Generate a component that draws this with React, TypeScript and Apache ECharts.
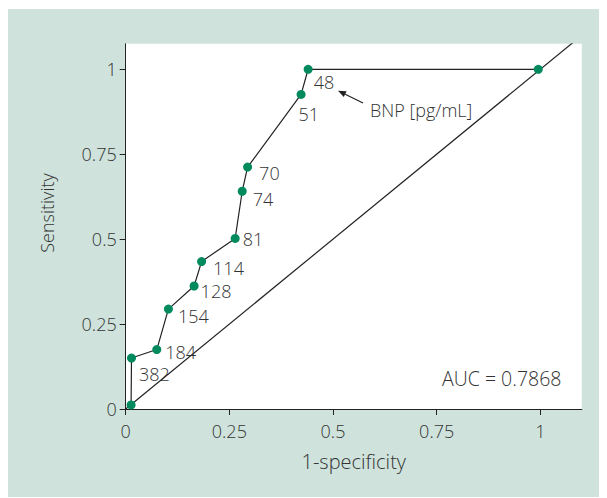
import React, { useEffect, useRef } from "react";
import * as echarts from "echarts";

// 1-specificity (false positive rate) and sensitivity for each BNP cut-off
const fpr = [0.013, 0.014, 0.075, 0.103, 0.165, 0.183, 0.264, 0.281, 0.294, 0.423, 0.44, 0.995];
const tpr = [0.012, 0.15, 0.175, 0.294, 0.362, 0.434, 0.502, 0.641, 0.712, 0.926, 1.0, 1.0];
const cutoffs = ["", "382", "184", "154", "128", "114", "81", "74", "70", "51", "48", ""];
const tickValues = [0, 0.25, 0.5, 0.75, 1];
const diagonal = [
  [0, 0],
  [1.1, 1.1],
];
const aucText = "AUC = 0.7868";
const unitText = "BNP [pg/mL]";

// label offsets (style only): [dx from right of dot, dy]
const labelOffsets: number[][] = [
  [0, 0],
  [3, 16],
  [4, 2],
  [5, 7],
  [2, 5],
  [7, 6],
  [3, 1],
  [6, 8],
  [7, 6],
  [-7, 20],
  [1, 13],
  [0, 0],
];

const FONT = "'Open Sans', 'Noto Sans', sans-serif";
const TXT = "#333333";
const FW = 300;

export default function App() {
  const ref = useRef<HTMLDivElement>(null);
  useEffect(() => {
    if (!ref.current) return;
    const chart = echarts.init(ref.current, undefined, { renderer: "svg" });
    const rocData = fpr.map((x, i) => ({
      value: [x, tpr[i]],
      label: {
        show: cutoffs[i] !== "",
        formatter: cutoffs[i],
        offset: labelOffsets[i],
      },
    }));
    // arrow geometry
    const tip = [331, 81.7];
    const tail = [356, 94];
    const dx = tip[0] - tail[0];
    const dy = tip[1] - tail[1];
    const len = Math.sqrt(dx * dx + dy * dy);
    const ux = dx / len;
    const uy = dy / len;
    const hl = 8;
    const hw = 3.2;
    const bx = tip[0] - ux * hl;
    const by = tip[1] - uy * hl;
    const px = -uy * hw;
    const py = ux * hw;
    chart.setOption({
      animation: false,
      backgroundColor: "#cfe3dc",
      textStyle: { fontFamily: FONT, fontWeight: FW },
      grid: {
        left: 118.7,
        top: 34.8,
        width: 456.1,
        height: 365.2,
        show: true,
        backgroundColor: "#ffffff",
        borderWidth: 0,
        containLabel: false,
      },
      xAxis: {
        type: "value",
        min: 0,
        max: 1.1,
        interval: 0.25,
        splitLine: { show: false },
        axisLine: { show: true, lineStyle: { color: "#222", width: 1 } },
        axisTick: {
          show: true,
          length: 6,
          lineStyle: { color: "#222" },
          customValues: tickValues,
        },
        axisLabel: {
          color: TXT,
          fontSize: 18,
          fontWeight: FW,
          fontFamily: FONT,
          margin: 13,
          customValues: tickValues,
        },
        name: "1-specificity",
        nameLocation: "middle",
        nameGap: 42,
        nameTextStyle: { color: TXT, fontSize: 20, fontWeight: FW, fontFamily: FONT },
      },
      yAxis: {
        type: "value",
        min: 0,
        max: 1.075,
        interval: 0.25,
        splitLine: { show: false },
        axisLine: { show: true, lineStyle: { color: "#222", width: 1 } },
        axisTick: {
          show: true,
          length: 6,
          lineStyle: { color: "#222" },
          customValues: tickValues,
        },
        axisLabel: {
          color: TXT,
          fontSize: 18,
          fontWeight: FW,
          fontFamily: FONT,
          margin: 9,
          customValues: tickValues,
        },
      },
      series: [
        {
          type: "line",
          data: diagonal,
          symbol: "none",
          clip: true,
          lineStyle: { color: "#222", width: 1.2 },
          silent: true,
          z: 1,
        },
        {
          type: "line",
          data: rocData,
          symbol: "circle",
          symbolSize: 9,
          showAllSymbol: true,
          itemStyle: { color: "#008a5e", borderWidth: 0 },
          lineStyle: { color: "#222", width: 1.2 },
          label: {
            show: true,
            position: "right",
            distance: 0,
            color: TXT,
            fontSize: 18,
            fontWeight: FW,
            fontFamily: FONT,
          },
          z: 3,
        },
      ],
      graphic: [
        {
          type: "text",
          x: 39.5,
          y: 204,
          rotation: Math.PI / 2,
          style: {
            text: "Sensitivity",
            fill: TXT,
            font: `${FW} 18px ${FONT}`,
            textAlign: "center",
            textVerticalAlign: "middle",
          },
        },
        {
          type: "text",
          x: 363,
          y: 101,
          style: {
            text: unitText,
            fill: TXT,
            font: `${FW} 18px ${FONT}`,
            textAlign: "left",
            textVerticalAlign: "middle",
          },
        },
        {
          type: "text",
          x: 435,
          y: 369,
          style: {
            text: aucText,
            fill: TXT,
            font: `${FW} 19.5px ${FONT}`,
            textAlign: "left",
            textVerticalAlign: "middle",
          },
        },
        {
          type: "line",
          shape: { x1: tail[0], y1: tail[1], x2: bx, y2: by },
          style: { stroke: "#222", lineWidth: 1.2 },
        },
        {
          type: "polygon",
          shape: {
            points: [
              [tip[0], tip[1]],
              [bx + px, by + py],
              [bx - px, by - py],
            ],
          },
          style: { fill: "#222" },
        },
      ],
    });
    return () => chart.dispose();
  }, []);
  return (
    <div
      ref={ref}
      style={{ position: "relative", left: -1, top: 1, width: 600, height: 489 }}
    />
  );
}
